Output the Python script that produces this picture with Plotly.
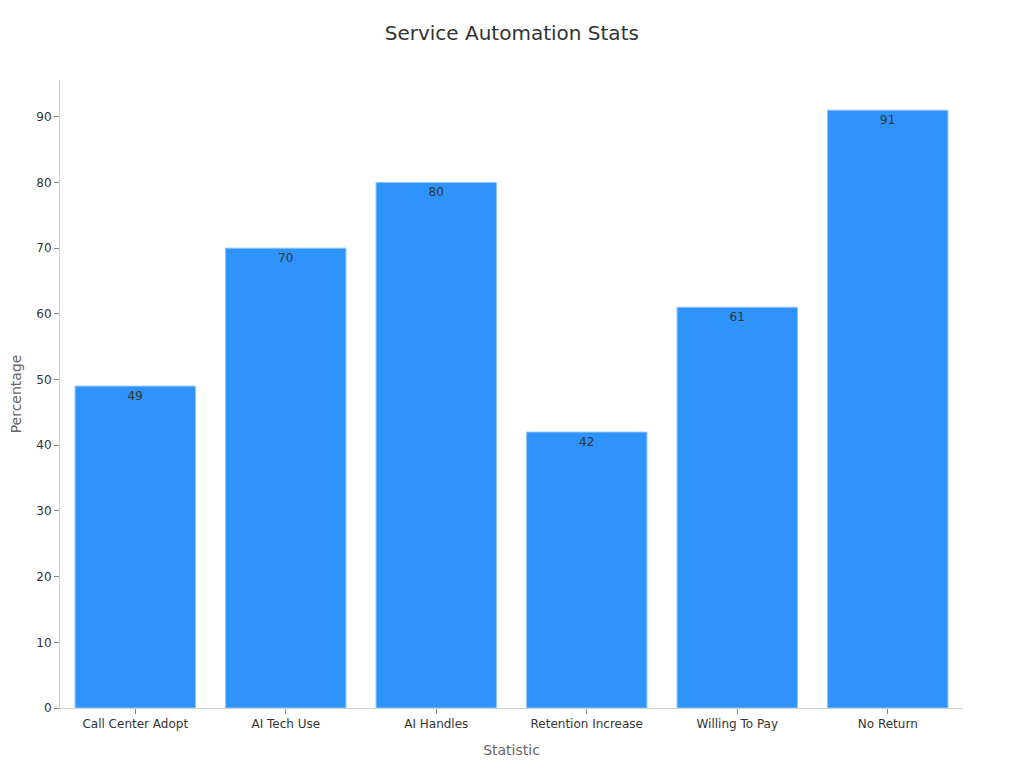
import plotly.graph_objects as go

categories = ["Call Center Adopt", "AI Tech Use", "AI Handles", "Retention Increase", "Willing To Pay", "No Return"]
values = [49, 70, 80, 42, 61, 91]

fig = go.Figure(go.Bar(
    x=categories, y=values,
    text=[str(v) for v in values],
    textposition="inside", insidetextanchor="end",
    textfont=dict(color="#333333", size=12, family="DejaVu Sans"),
    marker=dict(color="#2E93FA", line=dict(color="#8EC3FC", width=1)),
    width=0.8,
))

fig.update_layout(
    width=1024, height=768,
    paper_bgcolor="white", plot_bgcolor="white",
    font=dict(family="DejaVu Sans", color="#333333"),
    title=dict(text="Service Automation Stats", x=0.492, xanchor="center", y=0.9674, yanchor="middle",
               font=dict(size=20, color="#333333")),
    margin=dict(l=52, r=69, t=72, b=68),
    showlegend=False,
    xaxis=dict(title=dict(text="Statistic", font=dict(size=14, color="#666666"), standoff=14),
               showline=True, linecolor="#d0d0d0", ticks="outside", tickcolor="#888888", ticklen=5,
               tickfont=dict(size=12, color="#333333"), showgrid=False),
    yaxis=dict(title=dict(text="Percentage", font=dict(size=14, color="#666666")),
               automargin=False,
               range=[0, 95.6], dtick=10, showline=True, linecolor="#d0d0d0", ticks="outside",
               tickcolor="#888888", ticklen=5, tickfont=dict(size=12, color="#333333"),
               showgrid=False, zeroline=False),
)

fig.write_html("out.html")
